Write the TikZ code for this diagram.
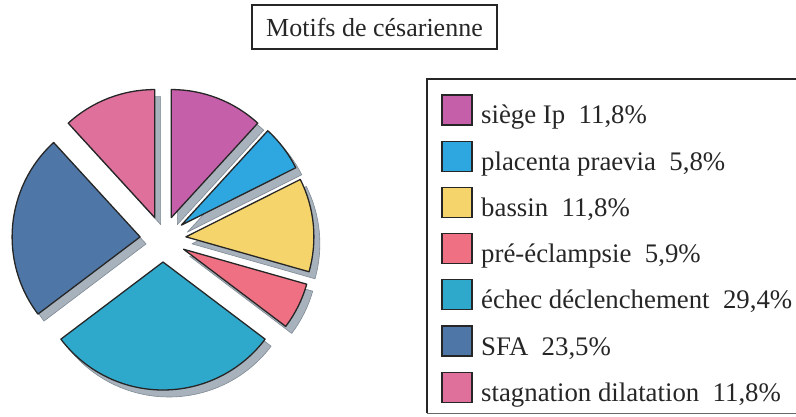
\documentclass[tikz,border=0pt]{standalone}
\usepackage{fontspec}
\setmainfont{Liberation Serif}
\definecolor{cSiege}{HTML}{C65FA9}
\definecolor{cPlac}{HTML}{2EA6E0}
\definecolor{cBassin}{HTML}{F5D56B}
\definecolor{cPre}{HTML}{EE7082}
\definecolor{cEchec}{HTML}{2EA9CC}
\definecolor{cSFA}{HTML}{4E76A6}
\definecolor{cStag}{HTML}{DF6F9B}
\definecolor{shadowc}{HTML}{A7B2BC}
\definecolor{shadowd}{HTML}{7F8A94}
\definecolor{ink}{HTML}{262626}
\begin{document}
\begin{tikzpicture}[x=1pt,y=1pt,
  slice/.style={draw=ink, line width=1.3pt, line join=round},
  shadowpart/.style={fill=shadowc, draw=shadowd, line width=0.6pt, line join=round},
  swatch/.style={draw=ink, line width=1.2pt, minimum width=30pt, minimum height=30pt, inner sep=0pt},
  lbl/.style={anchor=base west, inner sep=0pt, font=\fontsize{26.8}{30}\selectfont, text=ink},
]
\useasboundingbox (0,0) rectangle (796,416);
\coordinate (C) at (163,177);
\def\R{128pt}
\def\slicelist{47.52/90/cSiege, 26.64/47.52/cPlac, -15.84/26.64/cBassin, -37.08/-15.84/cPre, -142.92/-37.08/cEchec, 132.48/217.08/cSFA, 90/132.48/cStag}
% shadows
\foreach \a/\b/\c in \slicelist {
  \pgfmathsetmacro\m{(\a+\b)/2}
  \path[shadowpart] ([shift={(\m:23pt)}, xshift=6pt, yshift=-7pt]C) -- ++(\a:\R) arc[start angle=\a, end angle=\b, radius=\R] -- cycle;
}
% slices
\foreach \a/\b/\c in \slicelist {
  \pgfmathsetmacro\m{(\a+\b)/2}
  \path[slice, fill=\c] ([shift={(\m:23pt)}]C) -- ++(\a:\R) arc[start angle=\a, end angle=\b, radius=\R] -- cycle;
}
% title
\node[draw=ink, line width=1.3pt, minimum width=245pt, minimum height=44pt, inner sep=0pt,
      font=\fontsize{26}{30}\selectfont, text=ink] (title) at (374.5,389) {Motifs de césarienne};
% legend frame
\draw[ink, line width=1.6pt] (796,337) -- (427,337) -- (427,3);
\draw[ink!70, line width=1pt] (427,3) -- (796,3);
% legend rows
\foreach \c/\t [count=\k from 0] in {cSiege/{siège Ip~~11,8\%}, cPlac/{placenta praevia~~5,8\%}, cBassin/{bassin~~11,8\%}, cPre/{pré-éclampsie~~5,9\%}, cEchec/{échec déclenchement~~29,4\%}, cSFA/{SFA~~23,5\%}, cStag/{stagnation dilatation~~11,8\%}} {
  \node[swatch, fill=\c] (sw\k) at (457, 306-46.2*\k) {};
  \node[lbl] (lb\k) at (481, 292-46.2*\k) {\t};
}
\end{tikzpicture}
\end{document}
